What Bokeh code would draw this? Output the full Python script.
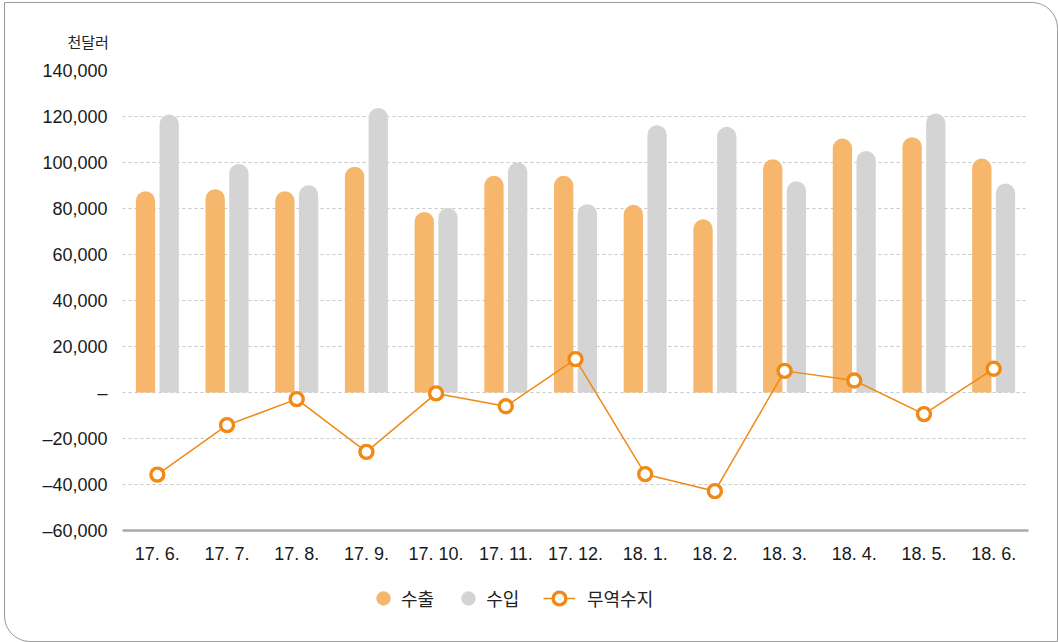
from bokeh.plotting import figure
from bokeh.layouts import column
from bokeh.models import ColumnDataSource, FixedTicker, Legend, LegendItem, FactorRange, Title
from bokeh.transform import dodge
from bokeh.embed import file_html
from bokeh.resources import INLINE

# ---- data (thousand USD) ----
months = ["17. 6.", "17. 7.", "17. 8.", "17. 9.", "17. 10.", "17. 11.", "17. 12.",
          "18. 1.", "18. 2.", "18. 3.", "18. 4.", "18. 5.", "18. 6."]
exports = [87500, 88400, 87500, 98200, 78500, 94200, 94200, 81600, 75300, 101400, 110400, 111000, 101700]
imports = [120900, 99400, 90100, 123700, 80300, 100000, 81900, 116200, 115500, 91900, 105000, 121300, 90900]
balance = [-35700, -14200, -2900, -25800, -400, -6000, 14500, -35500, -42900, 9400, 5200, -9400, 10300]

y_ticks = [-60000, -40000, -20000, 0, 20000, 40000, 60000, 80000, 100000, 120000, 140000]
y_tick_labels = ["\u201360,000", "\u201340,000", "\u201320,000", "\u2013", "20,000", "40,000",
                 "60,000", "80,000", "100,000", "120,000", "140,000"]
unit_label = "천달러"
series_names = ["수출", "수입", "무역수지"]

ORANGE = "#F6B66C"
GRAY = "#D4D4D4"
LINE = "#EF8A17"
NUM_FONT = "Liberation Sans"
KR_FONT = "Noto Sans CJK KR"

src = ColumnDataSource(dict(month=months, exports=exports, imports=imports, balance=balance))

# ---------------- main chart ----------------
p = figure(x_range=FactorRange(factors=months), y_range=(-60000, 140000),
           width=1052, height=574, output_backend="svg", toolbar_location=None,
           min_border_left=117, min_border_right=29, min_border_top=67, min_border_bottom=47)
p.background_fill_color = None
p.border_fill_color = None
p.outline_line_color = None

p.title = Title(text=unit_label, align="left", offset=-55, standoff=38, vertical_align="bottom",
                text_font=KR_FONT, text_font_size="15px", text_font_style="normal",
                text_color="#222222")

p.xgrid.grid_line_color = None
p.ygrid.ticker = FixedTicker(ticks=y_ticks)
p.ygrid.grid_line_color = "#c6c6c6"
p.ygrid.grid_line_dash = "3 3"
p.ygrid.grid_line_width = 1

p.vbar(x=dodge("month", -0.17, range=p.x_range), top="exports", bottom=0, width=0.277,
       source=src, fill_color=ORANGE, line_color=None, border_radius=(10, 10, 0, 0))
p.vbar(x=dodge("month", 0.17, range=p.x_range), top="imports", bottom=0, width=0.277,
       source=src, fill_color=GRAY, line_color=None, border_radius=(10, 10, 0, 0))

p.line("month", "balance", source=src, line_color=LINE, line_width=1.5)
p.scatter("month", "balance", source=src, size=13, fill_color="white",
          line_color=LINE, line_width=3.4)

p.yaxis.ticker = FixedTicker(ticks=y_ticks)
p.yaxis.major_label_overrides = dict(zip(y_ticks, y_tick_labels))
p.yaxis.axis_line_color = None
p.yaxis.major_tick_line_color = None
p.yaxis.minor_tick_line_color = None
p.yaxis.major_label_standoff = 9
p.yaxis.major_label_text_font = NUM_FONT
p.yaxis.major_label_text_font_size = "18px"
p.yaxis.major_label_text_color = "#1a1a1a"

p.xaxis.axis_line_color = "#aaaaaa"
p.xaxis.axis_line_width = 2.5
p.xaxis.major_tick_line_color = None
p.xaxis.minor_tick_line_color = None
p.xaxis.major_label_standoff = 7
p.xaxis.major_label_text_font = NUM_FONT
p.xaxis.major_label_text_font_size = "18px"
p.xaxis.major_label_text_color = "#1a1a1a"

# ---------------- legend strip ----------------
lg = figure(width=1052, height=64, output_backend="svg", toolbar_location=None,
            x_axis_location=None, y_axis_location=None, min_border=0)
lg.background_fill_color = None
lg.border_fill_color = None
lg.outline_line_color = None
lg.grid.visible = False

# hidden renderers that only supply the legend glyphs
d1 = lg.scatter(x="exports", y="exports", source=src, size=15, fill_color=ORANGE,
                line_color=None, visible=False)
d2 = lg.scatter(x="imports", y="imports", source=src, size=15, fill_color=GRAY,
                line_color=None, visible=False)
d3 = lg.line(x="balance", y="balance", source=src, line_color=LINE, line_width=1.5,
             visible=False)
d4 = lg.scatter(x="balance", y="balance", source=src, size=13, fill_color="white",
                line_color=LINE, line_width=3.4, visible=False)

common = dict(orientation="horizontal", padding=0, margin=0, border_line_color=None,
              background_fill_alpha=0, inactive_fill_alpha=0,
              label_text_font=KR_FONT, label_text_font_size="18px",
              label_text_color="#222222")
leg_a = Legend(items=[LegendItem(label=series_names[0], renderers=[d1]),
                      LegendItem(label=series_names[1], renderers=[d2])],
               location=(243, 25), glyph_width=36, glyph_height=36, label_standoff=-3,
               spacing=16, **common)
leg_b = Legend(items=[LegendItem(label=series_names[2], renderers=[d3, d4])],
               location=(421, 25), glyph_width=32, glyph_height=36, label_standoff=12, **common)
lg.add_layout(leg_a)
lg.add_layout(leg_b)

layout = column(p, lg, spacing=0)
layout.styles = {"margin-left": "4px", "margin-top": "2px", "border": "1px solid #9a9a9a",
                 "border-radius": "0 26px 0 26px", "overflow": "hidden"}

open("out.html", "w").write(file_html(layout, INLINE))
